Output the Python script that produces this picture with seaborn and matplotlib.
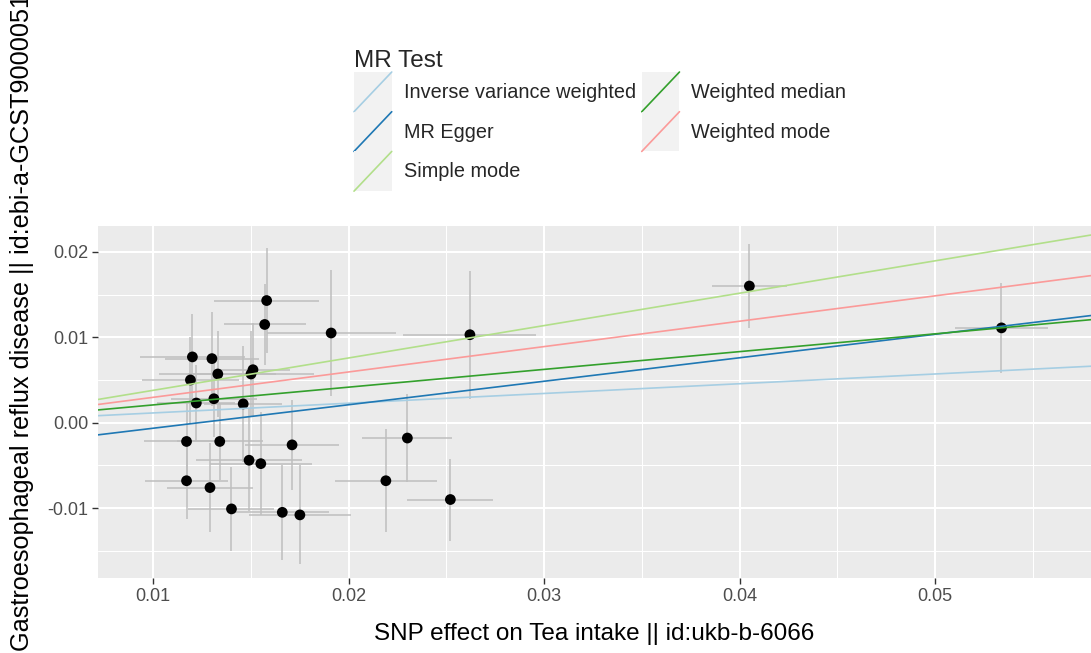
import matplotlib
matplotlib.use("Agg")
import matplotlib.pyplot as plt
import seaborn as sns
import pandas as pd
from matplotlib.legend_handler import HandlerBase
from matplotlib.patches import Rectangle
from matplotlib.lines import Line2D

# SNP effects
beta_exposure = [0.0158, 0.0157, 0.0191, 0.0120, 0.0130, 0.0119, 0.0133, 0.0151,
                 0.0150, 0.0122, 0.0131, 0.0146, 0.0117, 0.0134, 0.0171, 0.0149,
                 0.0155, 0.0117, 0.0129, 0.0140, 0.0166, 0.0175, 0.0219, 0.0230,
                 0.0252, 0.0262, 0.0405, 0.0534]
beta_outcome = [0.0143, 0.0115, 0.0105, 0.0077, 0.0075, 0.0050, 0.0057, 0.0062,
                0.0057, 0.0023, 0.0028, 0.0022, -0.0022, -0.0022, -0.0026, -0.0044,
                -0.0048, -0.0068, -0.0076, -0.0101, -0.0105, -0.0108, -0.0068, -0.0018,
                -0.0090, 0.0103, 0.0160, 0.0111]
se_exposure = [0.0027, 0.0021, 0.0033, 0.0027, 0.0024, 0.0025, 0.0030, 0.0019,
               0.0032, 0.0020, 0.0022, 0.0020, 0.0022, 0.0022, 0.0024, 0.0027,
               0.0026, 0.0021, 0.0022, 0.0022, 0.0024, 0.0026, 0.0026, 0.0023,
               0.0022, 0.0034, 0.0019, 0.0024]
se_outcome = [0.0061, 0.0047, 0.0074, 0.0050, 0.0055, 0.0050, 0.0050, 0.0055,
              0.0050, 0.0045, 0.0045, 0.0068, 0.0045, 0.0045, 0.0053, 0.0060,
              0.0060, 0.0045, 0.0052, 0.0049, 0.0056, 0.0058, 0.0060, 0.0052,
              0.0048, 0.0075, 0.0049, 0.0053]

# MR estimates
methods = ["Inverse variance weighted", "MR Egger", "Simple mode",
           "Weighted median", "Weighted mode"]
intercepts = [0.0, -0.0034, 0.0, 0.0, 0.0]
slopes = [0.114, 0.275, 0.379, 0.208, 0.297]
colours = ["#a6cee3", "#1f78b4", "#b2df8a", "#33a02c", "#fb9a99"]

xticks = [0.01, 0.02, 0.03, 0.04, 0.05]
xtick_labels = ["0.01", "0.02", "0.03", "0.04", "0.05"]
xminor = [0.015, 0.025, 0.035, 0.045, 0.055]
yticks = [-0.01, 0.0, 0.01, 0.02]
ytick_labels = ["-0.01", "0.00", "0.01", "0.02"]
yminor = [-0.015, -0.005, 0.005, 0.015]

df = pd.DataFrame({"bx": beta_exposure, "by": beta_outcome,
                   "bx_se": se_exposure, "by_se": se_outcome})


class AblineKey(HandlerBase):
    # ggplot-like key: grey square with a diagonal line
    def create_artists(self, legend, orig_handle, xdescent, ydescent,
                       width, height, fontsize, trans):
        bg = Rectangle((-xdescent, -ydescent), width, height,
                       facecolor="#F2F2F2", edgecolor="none", transform=trans)
        ln = Line2D([-xdescent, -xdescent + width], [-ydescent, -ydescent + height],
                    color=orig_handle.get_color(), lw=orig_handle.get_linewidth(),
                    transform=trans)
        return [bg, ln]


sns.set_theme(style="darkgrid", rc={"axes.facecolor": "#EBEBEB",
                                    "grid.color": "white",
                                    "axes.unicode_minus": False})
plt.rcParams["font.family"] = ["Liberation Sans", "DejaVu Sans"]

fig = plt.figure(figsize=(10.91, 6.53), dpi=100)
ax = fig.add_axes([98 / 1091, 1 - 578 / 653, 1 - 98 / 1091, 352 / 653])

ax.errorbar(df["bx"], df["by"], yerr=df["by_se"], fmt="none",
            ecolor="#BEBEBE", elinewidth=1.1, zorder=2)
ax.errorbar(df["bx"], df["by"], xerr=df["bx_se"], fmt="none",
            ecolor="#BEBEBE", elinewidth=1.1, zorder=2)
sns.scatterplot(data=df, x="bx", y="by", color="black", s=60,
                edgecolor="none", ax=ax, zorder=3)

handles = []
for m, a, b, c in zip(methods, intercepts, slopes, colours):
    h = ax.axline((0, a), slope=b, color=c, lw=1.2, label=m, zorder=4)
    handles.append(h)

ax.set_xlim(0.00717, 0.05798)
ax.set_ylim(-0.01819, 0.02303)
ax.set_xticks(xticks, xtick_labels)
ax.set_yticks(yticks, ytick_labels)
ax.set_xticks(xminor, minor=True)
ax.set_yticks(yminor, minor=True)
ax.grid(which="major", color="white", lw=1.5)
ax.grid(which="minor", color="white", lw=0.75)
ax.tick_params(which="major", length=4, width=1, color="#333333",
               labelcolor="#4D4D4D", labelsize=13, pad=3, bottom=True, left=True)
ax.tick_params(which="minor", length=0)
for s in ax.spines.values():
    s.set_visible(False)

ax.set_xlabel("SNP effect on Tea intake || id:ukb-b-6066", fontsize=17.5,
              va="center", color="black")
ax.xaxis.set_label_coords(0.5, (578 - 634) / 352)
ax.set_ylabel("Gastroesophageal reflux disease || id:ebi-a-GCST90000514",
              fontsize=18.2, ha="left", va="center", color="black")
ax.yaxis.set_label_coords((22 - 98) / 993, (578 - 651) / 352)

leg = ax.legend(handles=handles, labels=methods, ncol=2, title="MR Test",
                handler_map={h: AblineKey() for h in handles},
                loc="upper left", bbox_to_anchor=(354 / 1091, 1 - 50 / 653),
                bbox_transform=fig.transFigure, frameon=False,
                fontsize=14.3, title_fontsize=17.5, alignment="left",
                borderpad=0, labelspacing=0, handlelength=1.9,
                handleheight=2.7, handletextpad=0.6, columnspacing=0.3,
                borderaxespad=0)

fig.savefig("out.png", dpi=100)
